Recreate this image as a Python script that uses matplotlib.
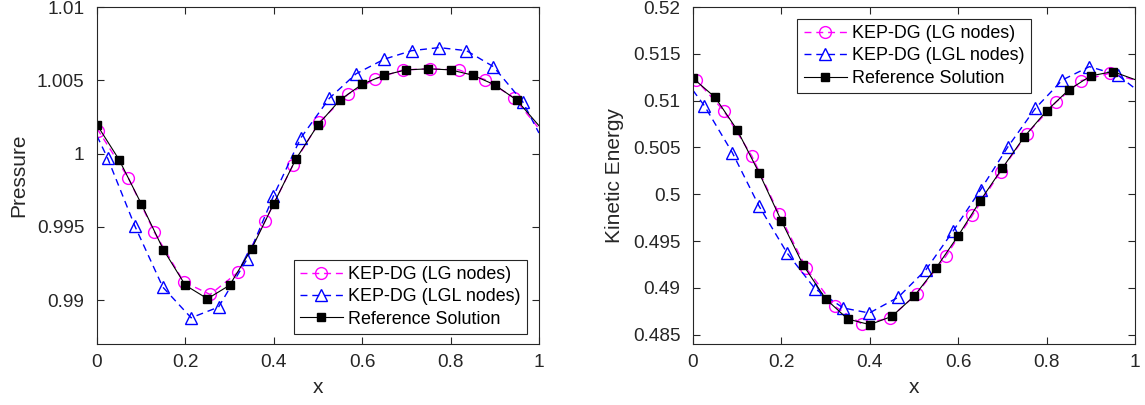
import matplotlib
matplotlib.use("Agg")
import matplotlib.pyplot as plt
from matplotlib.ticker import FormatStrFormatter

plt.rcParams['font.family'] = ['Liberation Sans', 'DejaVu Sans']

# ---------------- Pressure (left) ----------------
# reference solution, markers every 0.05 (line goes on to x = 1)
ref_x = [0, 0.05, 0.1, 0.15, 0.2, 0.25, 0.3, 0.35, 0.4, 0.45, 0.5,
         0.55, 0.6, 0.65, 0.7, 0.75, 0.8, 0.85, 0.9, 0.95, 1.0]
p_ref = [1.00196, 0.99958, 0.99658, 0.99345, 0.99101, 0.99009, 0.99101,
         0.99350, 0.99658, 0.99962, 1.00196, 1.00366, 1.00473, 1.00535,
         1.00571, 1.00578, 1.00571, 1.00535, 1.00469, 1.00364, 1.00190]

# KEP-DG with LG nodes (first and last entry are the line ends at x = 0, 1)
lg_x = [0, 0.003, 0.071, 0.130, 0.196, 0.256, 0.320, 0.380, 0.444, 0.503,
        0.569, 0.630, 0.693, 0.753, 0.819, 0.879, 0.944, 1.0]
p_lg = [1.0017, 1.00157, 0.99833, 0.99462, 0.99125, 0.99038, 0.99192,
        0.99537, 0.99924, 1.00215, 1.00407, 1.00510, 1.00571, 1.00578,
        1.00571, 1.00503, 1.00380, 1.0017]

# KEP-DG with LGL nodes
lgl_x = [0, 0.024, 0.086, 0.149, 0.213, 0.275, 0.339, 0.399, 0.461, 0.526,
         0.586, 0.650, 0.712, 0.774, 0.836, 0.897, 0.963, 1.0]
p_lgl = [1.0012, 0.99969, 0.99503, 0.99088, 0.98879, 0.98952, 0.99277,
         0.99708, 1.00106, 1.00378, 1.00544, 1.00644, 1.00702, 1.00723,
         1.00702, 1.00593, 1.00355, 1.0014]

# ---------------- Kinetic energy (right) ----------------
ke_ref = [0.51239, 0.51036, 0.50687, 0.50225, 0.49716, 0.49239, 0.48884,
          0.48667, 0.48607, 0.48695, 0.48909, 0.49212, 0.49556, 0.49930,
          0.50279, 0.50616, 0.50890, 0.51114, 0.51264, 0.51310, 0.51225]

lg_x2 = [0, 0.007, 0.070, 0.133, 0.195, 0.256, 0.321, 0.382, 0.446, 0.506,
         0.572, 0.632, 0.696, 0.755, 0.821, 0.879, 0.943, 1.0]
ke_lg = [0.5124, 0.51221, 0.50890, 0.50410, 0.49788, 0.49212, 0.48802,
         0.48614, 0.48678, 0.48934, 0.49336, 0.49773, 0.50242, 0.50641,
         0.50983, 0.51214, 0.51292, 0.5122]

lgl_x2 = [0, 0.026, 0.089, 0.150, 0.213, 0.276, 0.340, 0.399, 0.464, 0.527,
          0.588, 0.651, 0.713, 0.775, 0.836, 0.897, 0.961, 1.0]
ke_lgl = [0.5111, 0.50944, 0.50445, 0.49869, 0.49372, 0.48991, 0.48785,
          0.48731, 0.48898, 0.49193, 0.49602, 0.50050, 0.50509, 0.50919,
          0.51221, 0.51363, 0.51274, 0.5113]

labels = ['KEP-DG (LG nodes)', 'KEP-DG (LGL nodes)', 'Reference Solution']
grey = (0.15, 0.15, 0.15)


def draw(ax, yref, xlg, ylg, xlgl, ylgl):
    n = len(xlg)
    ax.plot(xlg, ylg, '--', color='magenta', lw=1.0, dashes=(5, 3.5),
            marker='o', ms=8.5, mfc='none', mew=1.0, markevery=list(range(1, n - 1)),
            label=labels[0])
    ax.plot(xlgl, ylgl, '--', color='blue', lw=1.0, dashes=(5, 3.5),
            marker='^', ms=8.5, mfc='none', mew=1.0, markevery=list(range(1, n - 1)),
            label=labels[1])
    ax.plot(ref_x, yref, '-', color='black', lw=0.8,
            marker='s', ms=5.5, markevery=list(range(0, len(ref_x) - 1)),
            label=labels[2])
    ax.set_xlim(0, 1)
    ax.set_xticks([0, 0.2, 0.4, 0.6, 0.8, 1])
    ax.xaxis.set_major_formatter(FormatStrFormatter('%g'))
    ax.yaxis.set_major_formatter(FormatStrFormatter('%g'))
    ax.tick_params(direction='in', top=True, right=True, length=5,
                   width=0.8, colors=grey, labelsize=13.7)
    ax.tick_params(axis='x', pad=7)
    ax.tick_params(axis='y', pad=9)
    for s in ax.spines.values():
        s.set_color(grey)
        s.set_linewidth(0.8)
    ax.set_xlabel('x', fontsize=15, color=grey)
    ax.xaxis.set_label_coords(0.5, -0.1)


def legend(ax, **kw):
    leg = ax.legend(fontsize=12.9, fancybox=False, edgecolor=grey, framealpha=1,
                    handlelength=2.4, borderpad=0.35, labelspacing=0.3,
                    handletextpad=0.3, borderaxespad=0, **kw)
    leg.get_frame().set_linewidth(0.8)


fig = plt.figure(figsize=(11.45, 4.05), dpi=100)
ax1 = fig.add_axes([0.0847, 0.1506, 0.386, 0.8321])
ax2 = fig.add_axes([0.6052, 0.1506, 0.386, 0.8321])

draw(ax1, p_ref, lg_x, p_lg, lgl_x, p_lgl)
ax1.set_ylim(0.987, 1.01)
ax1.set_yticks([0.99, 0.995, 1, 1.005, 1.01])
ax1.set_ylabel('Pressure', fontsize=15, color=grey)
ax1.yaxis.set_label_coords(-0.155, 0.5)
legend(ax1, loc='lower right', bbox_to_anchor=(0.973, 0.03))

draw(ax2, ke_ref, lg_x2, ke_lg, lgl_x2, ke_lgl)
ax2.set_ylim(0.484, 0.52)
ax2.set_yticks([0.485, 0.49, 0.495, 0.5, 0.505, 0.51, 0.515, 0.52])
ax2.set_ylabel('Kinetic Energy', fontsize=15, color=grey)
ax2.yaxis.set_label_coords(-0.155, 0.5)
legend(ax2, loc='upper center', bbox_to_anchor=(0.5, 0.965))

fig.savefig('out.png', dpi=100)
